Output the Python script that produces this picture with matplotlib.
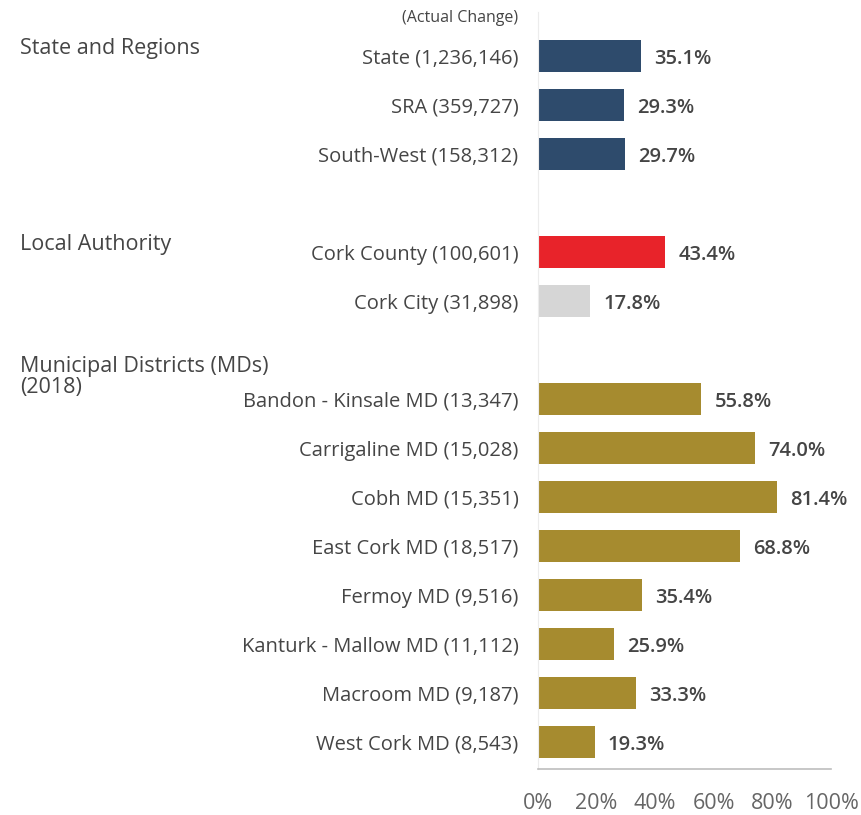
import numpy as np
import matplotlib.pyplot as plt
from matplotlib.transforms import blended_transform_factory

# data
labels = ['State (1,236,146)', 'SRA (359,727)', 'South-West (158,312)',
          'Cork County (100,601)', 'Cork City (31,898)',
          'Bandon - Kinsale MD (13,347)', 'Carrigaline MD (15,028)',
          'Cobh MD (15,351)', 'East Cork MD (18,517)', 'Fermoy MD (9,516)',
          'Kanturk - Mallow MD (11,112)', 'Macroom MD (9,187)',
          'West Cork MD (8,543)']
values = [35.1, 29.3, 29.7, 43.4, 17.8, 55.8, 74.0, 81.4, 68.8, 35.4, 25.9, 33.3, 19.3]
groups = ['State and Regions', 'Local Authority', 'Municipal Districts (MDs)\n(2018)']
group_sizes = [3, 2, 8]
xticks = [0, 20, 40, 60, 80, 100]

navy = '#2e4b6c'
red = '#e8232a'
grey = '#d6d6d6'
gold = '#a68b2f'
colors = [navy] * 3 + [red, grey] + [gold] * 8
txt = '#454545'

plt.rcParams['font.family'] = ['Open Sans', 'DejaVu Sans']

# slot positions: one empty slot between groups
pos = []
start = 0
for n in group_sizes:
    pos += list(range(start, start + n))
    start += n + 1
pos = np.array(pos)

fig = plt.figure(figsize=(8.62, 8.15), dpi=100)
ax = fig.add_axes([538 / 862, 1 - 769 / 815, 293 / 862, (769 - 12) / 815])

ax.barh(pos, values, height=0.66, color=colors)
ax.set_xlim(0, 100)
ax.set_ylim(14.55, -0.9)

for p, v in zip(pos, values):
    ax.text(v + 4.5, p + 0.05, f'{v:.1f}%', va='center', ha='left',
            fontsize=14.5, fontweight='semibold', color=txt)

ax.set_yticks(pos)
ax.set_yticklabels(labels, fontsize=14.5, color=txt)
ax.tick_params(axis='y', length=0, pad=14)
ax.set_xticks(xticks)
ax.set_xticklabels([f'{t}%' for t in xticks], fontsize=15.5, color='#666666')
ax.tick_params(axis='x', length=0, pad=17)

for s in ['top', 'right']:
    ax.spines[s].set_visible(False)
ax.spines['left'].set_color('#ececec')
ax.spines['bottom'].set_color('#bdbdbd')
ax.spines['bottom'].set_linewidth(1.2)

ax.text(-0.068, -0.77, '(Actual Change)', transform=blended_transform_factory(ax.transAxes, ax.transData),
        ha='right', va='center', fontsize=11.5, color=txt)

tr = blended_transform_factory(fig.transFigure, ax.transData)
gstart = [pos[0], pos[3], pos[5]]
offs = [-0.15, -0.15, -0.45]
for g, p, o in zip(groups, gstart, offs):
    fig.text(20 / 862, p + o, g, transform=tr, ha='left', va='center',
             fontsize=15.5, color=txt, linespacing=1.05)

fig.savefig('out.png', dpi=100)
